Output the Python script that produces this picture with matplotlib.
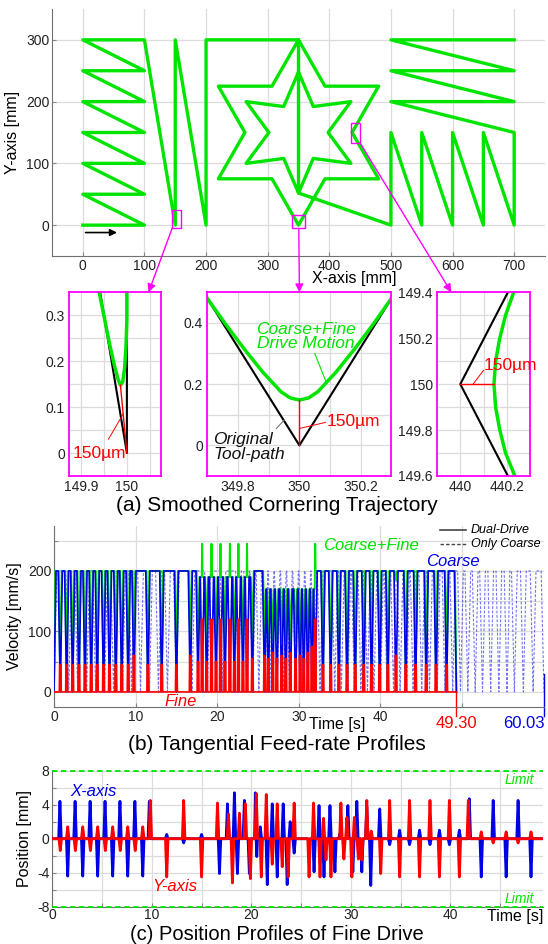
import numpy as np
import matplotlib
matplotlib.use("Agg")
import matplotlib.pyplot as plt
from matplotlib.patches import Rectangle, ConnectionPatch

plt.rcParams["font.family"] = ["Liberation Sans", "DejaVu Sans"]

GREEN = "#00e400"
BLUE = "#0000e6"
RED = "#ff0000"
MAGENTA = "#ff00ff"
GRID = "#dcdcdc"
SPINE = "#707070"

# ---------------------------------------------------------------------
# (a) tool-path vertices [mm]
# ---------------------------------------------------------------------
path_x = [0, 100, 0, 100, 0, 100, 0, 100, 0, 100, 0, 100, 0, 100,
          150, 150, 200, 200, 350,
          393, 480, 437, 480, 393, 350, 307, 220, 263, 220, 307, 350,
          350, 326, 265, 302, 265, 326, 350, 374, 435, 398, 435, 374, 350,
          500, 500, 550, 550, 600, 600, 650, 650, 700, 700,
          500, 700, 500, 700, 500, 700]
path_y = [0, 0, 50, 50, 100, 100, 150, 150, 200, 200, 250, 250, 300, 300,
          0, 300, 0, 300, 300,
          225, 225, 150, 75, 75, 0, 75, 75, 150, 225, 225, 300,
          52, 108, 100, 150, 200, 192, 248, 192, 200, 150, 100, 108, 52,
          0, 150, 0, 150, 0, 150, 0, 150, 0, 150,
          200, 200, 250, 250, 300, 300]

# zoomed corners (original path in black, coarse+fine in green)
c1_black_x = [149.942, 150.0, 150.0]
c1_black_y = [0.35, 0.0, 0.35]
c1_green_x = [149.940, 149.952, 149.963, 149.973, 149.981, 149.986, 149.991,
              149.995, 149.998, 150.0, 150.0]
c1_green_y = [0.35, 0.29, 0.235, 0.19, 0.16, 0.148, 0.155, 0.185, 0.23, 0.29, 0.35]

c2_black_x = [349.7, 350.0, 350.3]
c2_black_y = [0.48, 0.0, 0.48]
c2_green_x = [349.70, 349.76, 349.82, 349.88, 349.94, 349.97, 350.0,
              350.03, 350.06, 350.12, 350.18, 350.24, 350.30]
c2_green_y = [0.48, 0.395, 0.315, 0.24, 0.175, 0.155, 0.148,
              0.155, 0.175, 0.24, 0.315, 0.395, 0.48]

c3_black_x = [440.205, 440.0, 440.205]
c3_black_y = [150.4, 150.0, 149.6]
c3_green_x = [440.23, 440.195, 440.17, 440.152, 440.145, 440.152, 440.17, 440.195, 440.235]
c3_green_y = [150.4, 150.3, 150.2, 150.1, 150.0, 149.9, 149.8, 149.7, 149.6]

# ---------------------------------------------------------------------
# (b) feed-rate profiles: corner times [s] and speeds [mm/s]
# ---------------------------------------------------------------------
dual_corner_t = [0.77, 1.55, 2.29, 3.06, 3.80, 4.56, 5.30, 6.07, 6.80, 7.58, 8.30, 9.09, 9.80,
                 11.50, 13.20, 15.00, 16.70,
                 17.65, 18.15, 18.70, 19.30, 19.85, 20.40, 20.95, 21.55, 22.10, 22.60, 23.15, 23.65, 24.30,
                 25.80, 26.25, 26.80, 27.30, 27.90, 28.40, 28.95, 29.60, 30.15, 30.60, 31.10, 31.60, 32.00,
                 32.95, 33.90, 34.90, 35.90, 36.90, 37.95, 38.90, 39.90, 40.90, 41.90, 43.10, 44.30,
                 45.60, 46.80, 48.10]
dual_end_t = 49.30
coarse_peak = [200,
               200, 200, 200, 200, 200, 200, 200, 200, 200, 200, 200, 200,
               200, 200, 200, 200, 200,
               190, 190, 190, 190, 190, 190, 190, 190, 190, 190, 190, 190,
               200,
               170, 170, 170, 170, 170, 170, 170, 170, 170, 170, 170, 170,
               200,
               200, 200, 200, 200, 200, 200, 200, 200, 200, 200, 200, 200, 200, 200,
               200]
fine_peak = [45, 45, 45, 45, 45, 45, 45, 45, 45, 45, 45, 45, 60,
             45, 45, 45, 60,
             50, 120, 50, 120, 50, 120, 50, 120, 50, 120, 50, 120, 55,
             60, 55, 65, 55, 60, 55, 65, 55, 60, 55, 65, 75, 120,
             45, 45, 45, 45, 45, 45, 45, 45, 45, 60, 45, 45, 45, 45, 45]
total_corner = [15, 15, 15, 15, 15, 15, 15, 15, 15, 15, 15, 15, 95,
                15, 15, 15, 80,
                80, 245, 80, 245, 80, 245, 80, 245, 80, 245, 80, 245, 80,
                85, 85, 85, 85, 85, 85, 85, 85, 85, 85, 85, 85, 245,
                15, 15, 15, 15, 15, 15, 15, 15, 15, 185, 15, 15, 15, 15, 15]

coarse_only_corner_t = [1.8, 2.9, 4.0, 5.1, 6.2, 7.3, 8.4, 9.5, 10.6, 11.7, 12.8, 13.9, 15.0,
                        16.9, 18.8, 20.7, 22.6,
                        23.6, 24.35, 25.1, 25.85, 26.6, 27.35, 28.1, 28.85, 29.6, 30.35, 31.1, 31.85, 32.6,
                        34.4, 35.2, 36.0, 36.8, 37.6, 38.4, 39.2, 40.0, 40.8, 41.6, 42.4, 43.2, 44.0,
                        45.05, 46.0, 46.95, 47.9, 48.85, 49.8, 50.7, 51.6, 52.5, 53.5, 54.5, 55.5,
                        56.4, 57.5, 58.7]
coarse_only_end_t = 60.03
coarse_only_peak = 200

# ---------------------------------------------------------------------
# (c) fine-drive position spikes: times [s] and amplitudes [mm]
# ---------------------------------------------------------------------
fine_x_t = [0.77, 1.55, 2.29, 3.06, 3.80, 4.56, 5.30, 6.07, 6.80, 7.58, 8.30, 9.09, 9.75,
            11.5, 13.2, 15.0, 16.8, 17.6, 18.3, 18.6, 19.3, 19.8, 20.4, 20.55, 20.9, 21.6,
            22.1, 22.6, 23.2, 23.6, 23.9, 24.3,
            25.8, 26.3, 26.8, 27.3, 27.9, 28.4, 28.9, 29.7, 30.2, 30.6, 31.1, 31.6, 32.0,
            32.9, 33.9, 34.9, 35.9, 36.9, 37.95, 38.9, 39.9, 40.9, 41.9, 43.1, 44.3, 45.6, 46.8, 48.1]
fine_x_a = [4.4, -4.4, 4.4, -4.4, 4.4, -4.4, 4.4, -4.4, 4.4, -4.4, 4.4, -4.4, 4.4,
            0.5, -0.5, 0.5, -4.1, 4.1, 5.4, -4.1, 4.5, -4.1, 5.4, -2.1, 1.4, -5.4,
            4.1, -4.5, 4.1, -5.4, 2.0, -1.7,
            -0.5, -3.9, 3.9, -4.5, 3.9, -3.9, 0.6, 3.9, -3.9, 4.4, -3.9, 3.8, -5.5,
            3.5, -0.7, 1.0, -0.7, 1.0, -0.7, 1.0, -0.7, 1.0, 4.7, -4.5, 4.5, -4.5, 4.5, -4.5]
fine_y_t = [0.80, 1.55, 2.32, 3.06, 3.83, 4.56, 5.33, 6.07, 6.83, 7.58, 8.33, 9.09, 9.85,
            11.5, 13.2, 15.0, 16.6, 17.7, 18.1, 18.8, 19.4, 19.9, 20.5, 21.0, 21.5, 22.1,
            22.6, 23.1, 23.7, 24.3,
            25.8, 26.25, 26.9, 27.25, 27.5, 28.0, 29.0, 29.3, 29.6, 30.1, 30.35, 30.75, 31.1, 31.6, 32.05,
            33.0, 33.9, 34.9, 35.9, 36.9, 37.95, 38.9, 39.9, 40.9, 41.8, 43.1, 44.3, 45.6, 46.8, 48.1]
fine_y_a = [-1.4, 1.4, -1.4, 1.4, -1.4, 1.4, -1.4, 1.4, -1.4, 1.4, -1.4, 1.4, 4.5,
            -4.5, 4.5, -4.5, 4.2, 2.9, -5.2, 3.0, 4.1, -4.7, 5.3, -4.5, 5.2, -3.0,
            4.1, -3.3, -4.5, 4.2,
            -4.5, 4.2, -4.5, 2.4, -2.5, -4.5, 4.2, -2.4, 2.5, -4.5, 2.5, -2.4, -2.5, 4.5, 0.9,
            -4.1, 4.5, -4.5, 4.5, -4.5, 4.5, -4.5, 4.5, -4.5, 4.5, 0.8, -0.5, 0.8, -0.5, 0.8]
fine_limit = 8


# ---------------------------------------------------------------------
# helpers
# ---------------------------------------------------------------------
def corner_profile(corners, levels, corner_vals, t_end, ramp, spike_ramp=0.05):
    """polyline that sits on `levels` between corners and hits corner_vals at each corner"""
    r0 = min(ramp, 0.45 * corners[0])
    ts, vs = [0.0, r0], [0.0, levels[0]]
    edges = [0.0] + list(corners) + [t_end]
    for i, c in enumerate(corners):
        r = spike_ramp if corner_vals[i] > max(levels[i], levels[i + 1]) else ramp
        r_l = min(r, 0.45 * (c - edges[i]))
        r_r = min(r, 0.45 * (edges[i + 2] - c))
        ts += [c - r_l, c, c + r_r]
        vs += [levels[i], corner_vals[i], levels[i + 1]]
    r_end = min(ramp, 0.45 * (t_end - corners[-1]))
    ts += [t_end - r_end, t_end]
    vs += [levels[-1], 0.0]
    return ts, vs


def pulse_profile(corners, peaks, t_end, half_top=0.08, half_base=0.12):
    ts, vs = [0.0], [0.0]
    for c, p in zip(corners, peaks):
        ts += [c - half_base, c - half_top, c + half_top, c + half_base]
        vs += [0.0, p, p, 0.0]
    ts.append(t_end)
    vs.append(0.0)
    return ts, vs


def spike_profile(times, amps, t_end, width=0.13):
    ts, vs = [0.0], [0.0]
    for i, (t, a) in enumerate(zip(times, amps)):
        prev = times[i - 1] if i > 0 else -1.0
        nxt = times[i + 1] if i < len(times) - 1 else t_end + 1.0
        w = min(width, 0.5 * (t - prev), 0.5 * (nxt - t))
        ts += [t - w, t, t + w]
        vs += [0.0, a, 0.0]
    ts.append(t_end)
    vs.append(0.0)
    return ts, vs


def style_axes(ax, spines=("left", "bottom"), color=SPINE):
    for name, sp in ax.spines.items():
        sp.set_visible(name in spines)
        sp.set_color(color)
    ax.tick_params(direction="in", length=3, color="#888888", labelsize=10,
                   labelcolor="#222222", pad=2)
    ax.grid(True, color=GRID, lw=0.9)
    ax.set_axisbelow(True)


def style_inset(ax):
    for sp in ax.spines.values():
        sp.set_color(MAGENTA)
        sp.set_linewidth(1.3)
    ax.tick_params(length=0, labelsize=10, labelcolor="#222222", pad=3)
    ax.grid(True, color=GRID, lw=0.9)
    ax.set_axisbelow(True)


fig = plt.figure(figsize=(5.48, 9.44), dpi=100)

# ---------------------------------------------------------------------
# (a) main trajectory
# ---------------------------------------------------------------------
ax_a = fig.add_axes([0.0949, 0.7288, 0.8996, 0.2617])
ax_a.plot(path_x, path_y, color="black", lw=0.8)
ax_a.plot(path_x, path_y, color=GREEN, lw=2.4, solid_joinstyle="round")
ax_a.set_xlim(-50, 750)
ax_a.set_ylim(-50, 350)
ax_a.set_xticks(range(0, 701, 100))
ax_a.set_yticks(range(0, 301, 100))
style_axes(ax_a)
ax_a.set_ylabel("Y-axis [mm]", fontsize=11.5, labelpad=4)
ax_a.annotate("", xy=(60, -12), xytext=(0, -12),
              arrowprops=dict(arrowstyle="-|>", color="black", lw=1.2, mutation_scale=10))
fig.text(0.647, 0.7045, "X-axis [mm]", ha="center", va="center", fontsize=11.5)

boxes = [(145, -5, 15, 30), (340, -5, 21, 21), (435, 133, 15, 32)]
for bx, by, bw, bh in boxes:
    ax_a.add_patch(Rectangle((bx, by), bw, bh, fill=False, ec=MAGENTA, lw=1.0, zorder=5))

ax_i1 = fig.add_axes([0.1263, 0.4958, 0.1684, 0.1946])
ax_i2 = fig.add_axes([0.3783, 0.4958, 0.3361, 0.1946])
ax_i3 = fig.add_axes([0.7976, 0.4958, 0.1695, 0.1946])

# inset 1
ax_i1.plot(c1_black_x, c1_black_y, color="black", lw=1.5)
ax_i1.plot(c1_green_x, c1_green_y, color=GREEN, lw=2.5)
ax_i1.plot([150.0, 149.986], [0.0, 0.148], color=RED, lw=1.0)
ax_i1.plot([149.96, 149.992], [0.03, 0.085], color=RED, lw=0.7)
ax_i1.text(149.94, 0.0, "150\u00b5m", color=RED, fontsize=12.5, ha="center", va="center")
ax_i1.set_xlim(149.875, 150.075)
ax_i1.set_ylim(-0.05, 0.35)
ax_i1.set_xticks([149.9, 149.95, 150.0, 150.05])
ax_i1.set_xticklabels(["149.9", "", "150", ""])
ax_i1.set_yticks([0, 0.05, 0.1, 0.15, 0.2, 0.25, 0.3])
ax_i1.set_yticklabels(["0", "", "0.1", "", "0.2", "", "0.3"])
style_inset(ax_i1)

# inset 2
ax_i2.plot(c2_black_x, c2_black_y, color="black", lw=1.5)
ax_i2.plot(c2_green_x, c2_green_y, color=GREEN, lw=2.5)
ax_i2.plot([350.0, 350.0], [0.0, 0.148], color=RED, lw=1.0)
ax_i2.plot([350.0, 350.085], [0.055, 0.075], color=RED, lw=0.7)
ax_i2.text(350.09, 0.077, "150\u00b5m", color=RED, fontsize=12.5, ha="left", va="center")
ax_i2.plot([350.05, 350.088], [0.30, 0.205], color=GREEN, lw=0.8)
ax_i2.text(350.02, 0.355, "Coarse+Fine\nDrive Motion", color=GREEN, fontsize=12.5,
           style="italic", ha="center", va="center", linespacing=0.95)
ax_i2.plot([349.925, 349.95], [0.055, 0.082], color="#777777", lw=0.8)
ax_i2.text(349.72, -0.005, "Original\nTool-path", color="#111111", fontsize=12.5,
           style="italic", ha="left", va="center", linespacing=0.95)
ax_i2.set_xlim(349.7, 350.3)
ax_i2.set_ylim(-0.1, 0.5)
ax_i2.set_xticks([349.7, 349.8, 349.9, 350.0, 350.1, 350.2, 350.3])
ax_i2.set_xticklabels(["", "349.8", "", "350", "", "350.2", ""])
ax_i2.set_yticks([-0.1, 0, 0.1, 0.2, 0.3, 0.4, 0.5])
ax_i2.set_yticklabels(["", "0", "", "0.2", "", "0.4", ""])
style_inset(ax_i2)

# inset 3
ax_i3.plot(c3_black_x, c3_black_y, color="black", lw=1.5)
ax_i3.plot(c3_green_x, c3_green_y, color=GREEN, lw=2.5)
ax_i3.plot([440.0, 440.145], [150.0, 150.0], color=RED, lw=1.0)
ax_i3.plot([440.055, 440.1], [150.0, 150.06], color=RED, lw=0.7)
ax_i3.text(440.1, 150.083, "150\u00b5m", color=RED, fontsize=12.5, ha="left", va="center")
ax_i3.set_xlim(439.9, 440.3)
ax_i3.set_ylim(149.6, 150.4)
ax_i3.set_xticks([440.0, 440.1, 440.2])
ax_i3.set_xticklabels(["440", "", "440.2"])
ax_i3.set_yticks([149.6, 149.7, 149.8, 149.9, 150.0, 150.1, 150.2, 150.3, 150.4])
ax_i3.set_yticklabels(["149.6", "", "149.8", "", "150", "", "150.2", "", "149.4"])
style_inset(ax_i3)

links = [((145, -5), ax_i1, 0.86), ((350.5, -5), ax_i2, 0.5), ((450, 133), ax_i3, 0.153)]
for xy, inset, fx in links:
    con = ConnectionPatch(xyA=xy, coordsA="data", axesA=ax_a,
                          xyB=(fx, 1.0), coordsB="axes fraction", axesB=inset,
                          arrowstyle="-|>", color=MAGENTA, lw=1.0, mutation_scale=12)
    fig.add_artist(con)

fig.text(0.505, 0.465, "(a) Smoothed Cornering Trajectory", ha="center", va="center", fontsize=15)

# ---------------------------------------------------------------------
# (b) tangential feed-rate
# ---------------------------------------------------------------------
ax_b = fig.add_axes([0.0985, 0.2510, 0.8942, 0.1922])
co_t, co_v = corner_profile(coarse_only_corner_t,
                            [coarse_only_peak] * (len(coarse_only_corner_t) + 1),
                            [0] * len(coarse_only_corner_t), coarse_only_end_t, 0.35)
ax_b.plot(co_t, co_v, color=BLUE, lw=0.8, ls=(0, (2.5, 1.5)), alpha=0.55, zorder=2)
tot_t, tot_v = corner_profile(dual_corner_t, coarse_peak, total_corner, dual_end_t, 0.18)
ax_b.plot(tot_t, tot_v, color=GREEN, lw=1.4, zorder=3)
cs_t, cs_v = corner_profile(dual_corner_t, coarse_peak, [0] * len(dual_corner_t), dual_end_t, 0.25)
ax_b.plot(cs_t, cs_v, color=BLUE, lw=1.2, zorder=4)
fn_t, fn_v = pulse_profile(dual_corner_t, fine_peak, dual_end_t)
ax_b.fill(fn_t, fn_v, color=RED, lw=0, zorder=5)
ax_b.plot(fn_t, fn_v, color=RED, lw=1.2, zorder=5)

ax_b.set_xlim(0, 60.03)
ax_b.set_ylim(-25, 275)
ax_b.set_xticks([0, 10, 20, 30, 40, 50])
ax_b.set_xticklabels(["0", "10", "20", "30", "40", ""])
ax_b.set_yticks([0, 50, 100, 150, 200, 250])
ax_b.set_yticklabels(["0", "", "100", "", "200", ""])
style_axes(ax_b)
ax_b.set_ylabel("Velocity [mm/s]", fontsize=11.5, labelpad=4)

ax_b.plot([49.3, 49.3], [0, -40], color=RED, lw=1.0, clip_on=False)
ax_b.plot([60.03, 60.03], [30, -40], color=BLUE, lw=1.0, clip_on=False)
ax_b.text(49.3, -53, "49.30", color=RED, fontsize=12, ha="center", va="center")
ax_b.text(57.6, -53, "60.03", color=BLUE, fontsize=12, ha="center", va="center")
ax_b.text(34.7, -54, "Time [s]", fontsize=11.5, ha="center", va="center")

ax_b.text(32.95, 242, "Coarse+Fine", color=GREEN, fontsize=12, style="italic", va="center")
ax_b.text(45.6, 215, "Coarse", color=BLUE, fontsize=12, style="italic", va="center")
ax_b.text(13.5, -16, "Fine", color=RED, fontsize=12, style="italic", va="center")

ax_b.plot([47.3, 50.5], [268, 268], color="#444444", lw=1.2, clip_on=False)
ax_b.plot([47.3, 50.5], [244, 244], color="#444444", lw=1.0, ls=(0, (2.5, 1.5)), clip_on=False)
ax_b.text(51.1, 268, "Dual-Drive", fontsize=9, style="italic", va="center")
ax_b.text(51.1, 244, "Only Coarse", fontsize=9, style="italic", va="center")

fig.text(0.505, 0.211, "(b) Tangential Feed-rate Profiles", ha="center", va="center", fontsize=15)

# ---------------------------------------------------------------------
# (c) fine drive positions
# ---------------------------------------------------------------------
ax_c = fig.add_axes([0.0954, 0.0395, 0.8954, 0.1441])
fx_t, fx_v = spike_profile(fine_x_t, fine_x_a, dual_end_t)
fy_t, fy_v = spike_profile(fine_y_t, fine_y_a, dual_end_t)
ax_c.plot(fx_t, fx_v, color=BLUE, lw=2.0, zorder=3)
ax_c.plot(fy_t, fy_v, color=RED, lw=2.0, zorder=4)
ax_c.axhline(fine_limit, color=GREEN, lw=1.3, ls=(0, (3, 2)), zorder=5, clip_on=False)
ax_c.axhline(-fine_limit, color=GREEN, lw=1.3, ls=(0, (3, 2)), zorder=5, clip_on=False)
ax_c.set_xlim(0, dual_end_t)
ax_c.set_ylim(-8, 8)
ax_c.set_xticks(range(0, 50, 5))
ax_c.set_xticklabels(["0", "", "10", "", "20", "", "30", "", "40", ""])
ax_c.set_yticks(range(-8, 9, 2))
ax_c.set_yticklabels(["-8", "", "-4", "", "0", "", "4", "", "8"])
style_axes(ax_c)
ax_c.tick_params(axis="x", pad=1)
ax_c.set_ylabel("Position [mm]", fontsize=11.5, labelpad=4)
ax_c.text(1.8, 5.5, "X-axis", color=BLUE, fontsize=12, style="italic", va="center")
ax_c.text(10.0, -5.6, "Y-axis", color=RED, fontsize=12, style="italic", va="center")
ax_c.text(48.4, 6.9, "Limit", color=GREEN, fontsize=10, style="italic", ha="right", va="center")
ax_c.text(48.4, -7.1, "Limit", color=GREEN, fontsize=10, style="italic", ha="right", va="center")
ax_c.text(49.3, -9.2, "Time [s]", fontsize=11.5, ha="right", va="center")

fig.text(0.505, 0.0005, "(c) Position Profiles of Fine Drive", ha="center", va="bottom", fontsize=14.5)

fig.savefig("out.png", dpi=100)
